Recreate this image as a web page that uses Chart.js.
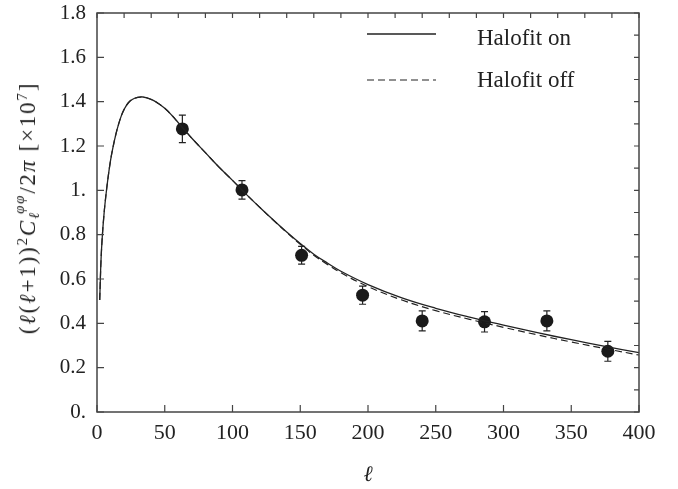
<!DOCTYPE html>
<html>
<head>
<meta charset="utf-8">
<script src="https://cdn.jsdelivr.net/npm/chart.js@4.4.1/dist/chart.umd.min.js"></script>
<style>
  html, body { margin: 0; padding: 0; background: #fff; }
  #wrap { position: relative; width: 678px; height: 489px; }
  #ytitle {
    position: absolute; left: 30px; top: 208px;
    transform: translate(-50%, -50%) rotate(-90deg);
    white-space: nowrap; font-family: "Liberation Serif", serif; font-size: 23px;
    letter-spacing: 1.8px; color: #222;
  }
  #ytitle sup, #ytitle sub { font-size: 15px; line-height: 0; }
  .stack { display: inline-block; vertical-align: middle; line-height: 1; position: relative; top: -3px; }
  .stack span { display: block; font-size: 15px; }
</style>
</head>
<body>
<div id="wrap">
  <canvas id="chart" width="678" height="489"></canvas>
  <div id="ytitle">(<i>ℓ</i>(<i>ℓ</i>+1))<sup>2</sup><i>C</i><span class="stack"><span style="padding-left:5px"><i>φφ</i></span><span><i>ℓ</i></span></span>/2<i>π</i> [×10<sup>7</sup>]</div>
</div>
<script>
// Data
const ellCurve   = [2, 3, 4, 5, 6, 8, 10, 12, 14, 16, 18, 20, 23, 26, 30, 34, 40, 45, 50, 55, 60, 65, 70, 80, 90, 100, 110, 120, 130, 140, 150, 160, 170, 180, 200, 225, 250, 275, 300, 325, 350, 375, 400];
const halofitOn  = [0.505, 0.69, 0.80, 0.88, 0.945, 1.05, 1.135, 1.20, 1.255, 1.30, 1.337, 1.365, 1.394, 1.41, 1.419, 1.421, 1.41, 1.393, 1.37, 1.34, 1.305, 1.27, 1.235, 1.17, 1.105, 1.045, 0.983, 0.924, 0.867, 0.812, 0.76, 0.712, 0.672, 0.635, 0.575, 0.515, 0.468, 0.428, 0.392, 0.358, 0.326, 0.296, 0.268];
const halofitOff = [0.505, 0.69, 0.80, 0.88, 0.945, 1.05, 1.135, 1.20, 1.255, 1.30, 1.337, 1.365, 1.394, 1.41, 1.419, 1.421, 1.41, 1.393, 1.37, 1.34, 1.305, 1.27, 1.235, 1.17, 1.105, 1.045, 0.983, 0.924, 0.866, 0.81, 0.757, 0.707, 0.666, 0.628, 0.566, 0.505, 0.457, 0.418, 0.382, 0.348, 0.316, 0.286, 0.257];
const ellData = [63, 107, 151, 196, 240, 286, 332, 377];
const clData  = [1.277, 1.002, 0.707, 0.527, 0.411, 0.407, 0.411, 0.274];
const clErr   = [0.062, 0.042, 0.040, 0.041, 0.045, 0.046, 0.045, 0.045];
const legendLabels = ['Halofit on', 'Halofit off'];

const ink = '#222';
const serif = '"Liberation Serif", "Times New Roman", serif';

// error bars under the points
const errorBars = {
  id: 'errorBars',
  beforeDatasetsDraw(chart) {
    const {ctx, scales: {x, y}} = chart;
    ctx.save();
    ctx.strokeStyle = ink;
    ctx.lineWidth = 1.2;
    ellData.forEach((l, i) => {
      const px = x.getPixelForValue(l);
      const top = y.getPixelForValue(clData[i] + clErr[i]);
      const bot = y.getPixelForValue(clData[i] - clErr[i]);
      ctx.beginPath();
      ctx.moveTo(px, top); ctx.lineTo(px, bot);
      ctx.moveTo(px - 3.5, top); ctx.lineTo(px + 3.5, top);
      ctx.moveTo(px - 3.5, bot); ctx.lineTo(px + 3.5, bot);
      ctx.stroke();
    });
    ctx.restore();
  }
};

// box frame with inward ticks
const frame = {
  id: 'frame',
  afterDraw(chart) {
    const {ctx, chartArea: a, scales: {x, y}} = chart;
    ctx.save();
    ctx.strokeStyle = '#444';
    ctx.lineWidth = 1.5;
    ctx.strokeRect(a.left, a.top, a.right - a.left, a.bottom - a.top);
    ctx.lineWidth = 1.2;
    ctx.beginPath();
    x.ticks.forEach(t => {
      const px = x.getPixelForValue(t.value);
      ctx.moveTo(px, a.bottom); ctx.lineTo(px, a.bottom - 7);
    });
    for (let v = 0; v <= 400; v += 20) {
      const px = x.getPixelForValue(v);
      ctx.moveTo(px, a.top); ctx.lineTo(px, a.top + 5);
    }
    y.ticks.forEach(t => {
      const py = y.getPixelForValue(t.value);
      ctx.moveTo(a.left, py); ctx.lineTo(a.left + 7, py);
    });
    for (let v = 0; v <= 18; v += 1) {
      const py = y.getPixelForValue(v / 10);
      ctx.moveTo(a.right, py); ctx.lineTo(a.right - 5, py);
    }
    ctx.stroke();
    ctx.restore();
  }
};

// legend inside the plot, top right
const boxLegend = {
  id: 'boxLegend',
  afterDraw(chart) {
    const {ctx} = chart;
    ctx.save();
    ctx.font = '23px ' + serif;
    ctx.fillStyle = ink;
    ctx.textBaseline = 'middle';
    const rows = [{line: 34, text: 39}, {line: 80, text: 81}];
    legendLabels.forEach((label, i) => {
      const ds = chart.data.datasets[i];
      ctx.strokeStyle = ds.borderColor;
      ctx.lineWidth = ds.borderWidth;
      ctx.setLineDash(ds.borderDash || []);
      ctx.beginPath();
      ctx.moveTo(367, rows[i].line); ctx.lineTo(436, rows[i].line);
      ctx.stroke();
      ctx.fillText(label, 477, rows[i].text);
    });
    ctx.restore();
  }
};

new Chart(document.getElementById('chart'), {
  type: 'scatter',
  data: {
    datasets: [
      {
        label: legendLabels[0],
        data: ellCurve.map((l, i) => ({x: l, y: halofitOn[i]})),
        showLine: true, borderColor: ink, borderWidth: 1.3,
        pointRadius: 0, tension: 0.4
      },
      {
        label: legendLabels[1],
        data: ellCurve.map((l, i) => ({x: l, y: halofitOff[i]})),
        showLine: true, borderColor: ink, borderWidth: 1.2, borderDash: [7, 4],
        pointRadius: 0, tension: 0.4
      },
      {
        label: 'data',
        data: ellData.map((l, i) => ({x: l, y: clData[i]})),
        pointRadius: 6.5, backgroundColor: '#1a1a1a', borderWidth: 0
      }
    ]
  },
  options: {
    responsive: false,
    animation: false,
    layout: { padding: { left: 0, right: 39, top: 13, bottom: 0 } },
    plugins: { legend: { display: false }, tooltip: { enabled: false } },
    scales: {
      x: {
        type: 'linear', min: 0, max: 400,
        grid: { display: false, drawTicks: false },
        border: { display: false },
        ticks: { stepSize: 50, padding: 8, color: ink, font: { family: serif, size: 22 } },
        title: { display: true, text: 'ℓ', color: ink, padding: { top: 0, bottom: 1 },
                 font: { family: serif, size: 22, style: 'italic' } },
        afterFit(s) { s.height = 77; s.paddingLeft = 0; s.paddingRight = 0; }
      },
      y: {
        min: 0, max: 1.8,
        grid: { display: false, drawTicks: false },
        border: { display: false },
        ticks: {
          stepSize: 0.2, padding: 11, color: ink, font: { family: serif, size: 21 },
          callback: v => {
            const r = Math.round(v * 10) / 10;
            return Number.isInteger(r) ? r + '.' : r.toFixed(1);
          }
        },
        afterFit(s) { s.width = 97; s.paddingTop = 0; s.paddingBottom = 0; }
      }
    }
  },
  plugins: [errorBars, frame, boxLegend]
});
</script>
</body>
</html>
